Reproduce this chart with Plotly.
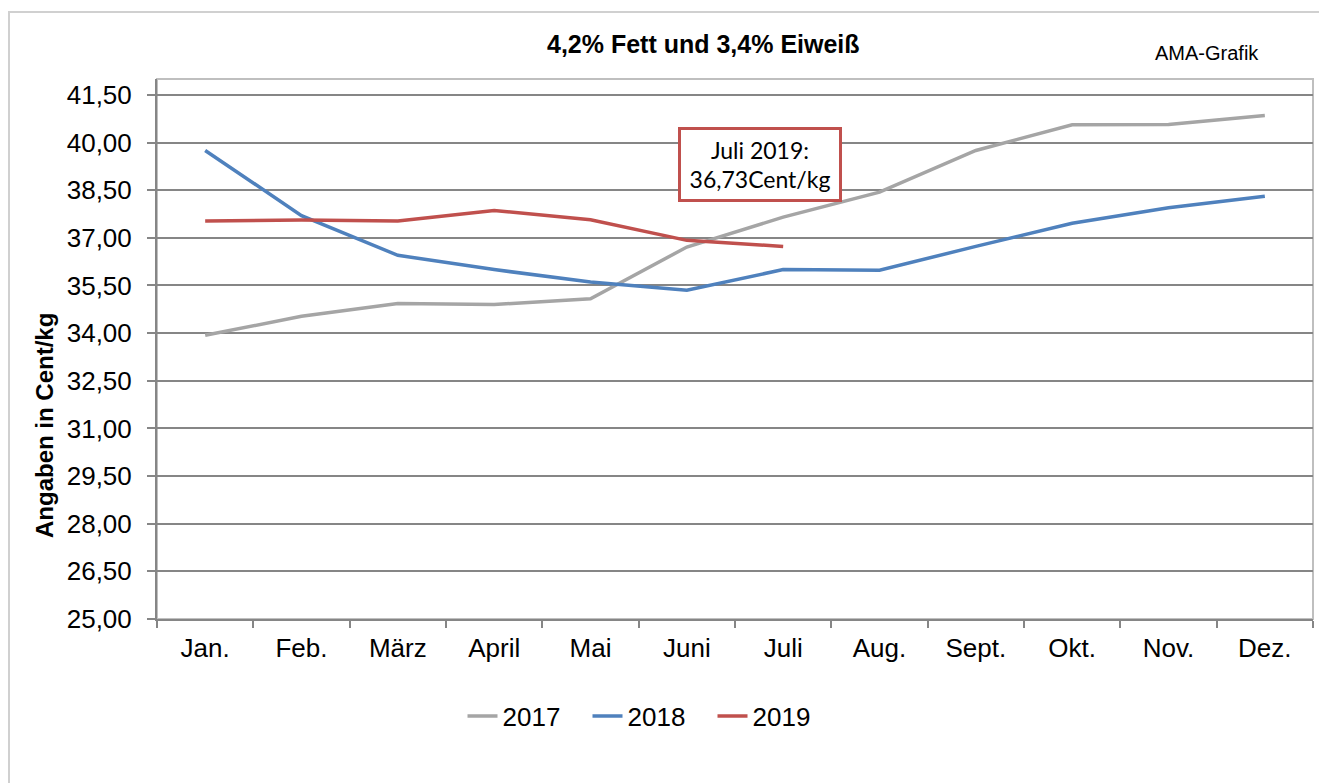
import plotly.graph_objects as go

# Monthly milk price, 4.2% fat / 3.4% protein (Cent/kg)
months = ['Jan.', 'Feb.', 'März', 'April', 'Mai', 'Juni', 'Juli',
          'Aug.', 'Sept.', 'Okt.', 'Nov.', 'Dez.']
y2017 = [33.93, 34.53, 34.93, 34.90, 35.08, 36.71, 37.65,
         38.44, 39.75, 40.56, 40.57, 40.85]
y2018 = [39.75, 37.70, 36.45, 36.00, 35.61, 35.35, 36.00,
         35.98, 36.73, 37.46, 37.95, 38.31]
y2019 = [37.53, 37.56, 37.53, 37.86, 37.57, 36.92, 36.73]
tickvals = [25.0, 26.5, 28.0, 29.5, 31.0, 32.5, 34.0, 35.5, 37.0, 38.5, 40.0, 41.5]

series = [('2017', y2017, '#A5A5A5'),
          ('2018', y2018, '#4F81BD'),
          ('2019', y2019, '#C0504D')]

fig = go.Figure()
for name, vals, col in series:
    fig.add_trace(go.Scatter(
        x=months[:len(vals)], y=vals, name=name, mode='lines',
        line=dict(color=col, width=3.5)
    ))

font = 'Liberation Sans, Arial, sans-serif'
grid = '#868686'

# plot area in page pixels (page body has an 8px margin)
PL, PR, PT, PB = 157, 1313, 79, 619
W, H = 1327, 783

def px(x):
    return (x - PL) / (PR - PL)

def py(y):
    return (PB - y) / (PB - PT)

fig.update_layout(
    width=W, height=H,
    margin=dict(l=PL - 8, r=W + 8 - PR, t=PT - 8, b=H + 8 - PB),
    paper_bgcolor='white', plot_bgcolor='white',
    separators=', ',
    font=dict(family=font, size=26, color='black'),
    showlegend=True,
    legend=dict(orientation='h', x=px(650), xanchor='center', y=py(716), yanchor='middle',
                font=dict(size=26), itemwidth=30, tracegroupgap=0,
                entrywidth=80, bgcolor='rgba(0,0,0,0)'),
    xaxis=dict(type='category', categoryorder='array', categoryarray=months,
               range=[-0.5, 11.5], showgrid=False, tickson='boundaries',
               ticks='outside', ticklen=7, tickwidth=2, tickcolor=grid,
               ticklabelstandoff=5,
               showline=True, linecolor=grid, linewidth=2, zeroline=False),
    yaxis=dict(range=[25, 42], tickvals=tickvals, tickformat='.2f',
               showgrid=True, gridcolor=grid, gridwidth=2,
               ticks='outside', ticklen=8, tickwidth=2, tickcolor=grid,
               ticklabelstandoff=10,
               showline=True, linecolor=grid, linewidth=2, zeroline=False),
)

# plot area border (top / right) and outer chart frame
fig.add_shape(type='rect', xref='paper', yref='paper', x0=0, x1=1, y0=0, y1=1,
              line=dict(color='#BFBFBF', width=2), layer='below')
fig.add_shape(type='rect', xref='paper', yref='paper',
              x0=px(9), x1=px(1345), y0=py(800), y1=py(12),
              line=dict(color='#D0D0D0', width=2), layer='below')

fig.add_annotation(text='<b>4,2% Fett und 3,4% Eiweiß</b>', xref='paper', yref='paper',
                   x=px(703), y=py(44), showarrow=False,
                   xanchor='center', yanchor='middle', font=dict(size=25))
fig.add_annotation(text='AMA-Grafik', xref='paper', yref='paper',
                   x=px(1207), y=py(53), showarrow=False,
                   xanchor='center', yanchor='middle', font=dict(size=20))
fig.add_annotation(text='<b>Angaben in Cent/kg</b>', xref='paper', yref='paper',
                   x=px(44), y=py(426), showarrow=False,
                   textangle=-90, xanchor='center', yanchor='middle',
                   font=dict(size=24))
fig.add_annotation(text='Juli 2019:<br>36,73Cent/kg', xref='paper', yref='paper',
                   x=px(760), y=py(164.5), showarrow=False,
                   xanchor='center', yanchor='middle', align='center',
                   width=158, height=69,
                   font=dict(family='Lato, sans-serif', size=23),
                   bordercolor='#C0504D', borderwidth=3, borderpad=0,
                   bgcolor='white')

fig.write_html('out.html')
